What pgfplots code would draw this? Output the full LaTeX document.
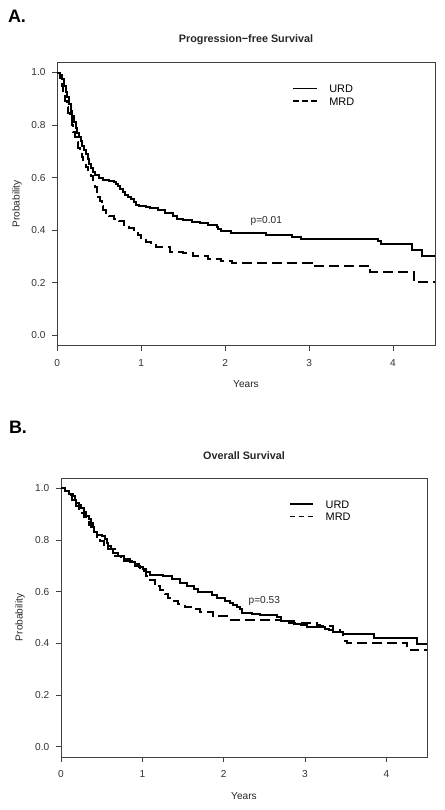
\documentclass[border=0pt]{standalone}
\usepackage{fontspec}
\setmainfont{Liberation Sans}
\usepackage{pgfplots}
\pgfplotsset{compat=1.18}
\begin{document}
\begin{tikzpicture}
\pgfplotsset{
  kmaxis/.style={
    scale only axis,
    xmin=0, xmax=4.5, ymin=-0.04, ymax=1.04,
    xtick={0,1,2,3,4},
    ytick={0,0.2,0.4,0.6,0.8,1.0},
    yticklabel style={/pgf/number format/fixed, /pgf/number format/fixed zerofill, /pgf/number format/precision=1, /tikz/xshift=-1.5pt},
    xticklabel style={/tikz/yshift=-3pt},
    /pgf/number format/assume math mode=true,
    tick align=outside,
    xtick pos=bottom, ytick pos=left,
    major tick length=3.8pt,
    tick style={black!75, line width=0.6pt},
    axis line style={black!75, line width=0.7pt},
    ticklabel style={font=\fontsize{7.6}{9}\selectfont, text=black!80},
    legend style={draw=none, fill=none, font=\fontsize{8.2}{10}\selectfont, row sep=3.5pt,
      inner sep=0pt, outer sep=0pt,
      nodes={inner sep=0pt, text height=6pt, text depth=0pt},
      /tikz/every odd column/.append style={column sep=9pt}},
    legend cell align=left,
    legend image code/.code={\draw[#1] (0pt,0pt) -- (17.5pt,0pt);},
  },
  urd/.style={black, line width=1.5pt, const plot, forget plot},
  mrd/.style={black, line width=1.5pt, const plot, forget plot, dash pattern=on 7.5pt off 3.75pt},
  urdleg/.style={black, line width=1pt},
  mrdleg/.style={black, line width=1pt, dash pattern=on 4.2pt off 2.5pt},
}
\path[use as bounding box] (0,0) rectangle (333.75pt,-607.5pt);
% ---------------- Panel A ----------------
\begin{axis}[kmaxis, at={(42.98pt,-259.28pt)}, anchor=south west,
  width=283.28pt, height=212.78pt,
  legend style={at={(rel axis cs:0.623,0.921)}, anchor=north west}]
\addlegendimage{urdleg}
\addlegendentry{URD}
\addlegendimage{mrdleg}
\addlegendentry{MRD}
\addplot[urd] coordinates {
(0,1.0) (0.03,0.99) (0.06,0.975) (0.08,0.95) (0.10,0.925) (0.12,0.905) (0.14,0.88)
(0.16,0.855) (0.18,0.835) (0.20,0.81) (0.22,0.79) (0.24,0.77) (0.26,0.755) (0.28,0.74)
(0.30,0.72) (0.32,0.705) (0.34,0.69) (0.36,0.67) (0.38,0.65) (0.40,0.635) (0.42,0.62)
(0.45,0.61) (0.50,0.60) (0.55,0.592) (0.62,0.588) (0.68,0.583) (0.70,0.575) (0.72,0.567)
(0.75,0.556) (0.78,0.545) (0.81,0.535) (0.84,0.527) (0.88,0.518) (0.91,0.508) (0.94,0.497)
(0.97,0.49) (1.06,0.487) (1.10,0.483) (1.20,0.475) (1.28,0.465) (1.38,0.455) (1.43,0.443)
(1.50,0.437) (1.60,0.431) (1.70,0.426) (1.80,0.421) (1.90,0.413) (1.92,0.404) (1.95,0.398)
(2.07,0.389) (2.49,0.380) (2.80,0.373) (2.90,0.366) (3.82,0.357) (3.86,0.347) (4.22,0.326)
(4.35,0.303) (4.5,0.303)};
\addplot[mrd] coordinates {
(0,1.0) (0.03,0.98) (0.05,0.95) (0.07,0.92) (0.09,0.89) (0.11,0.87) (0.13,0.845)
(0.15,0.825) (0.17,0.80) (0.19,0.775) (0.21,0.755) (0.23,0.735) (0.25,0.712) (0.27,0.695)
(0.29,0.678) (0.31,0.661) (0.34,0.642) (0.37,0.623) (0.40,0.605) (0.43,0.585) (0.45,0.565)
(0.47,0.547) (0.49,0.528) (0.51,0.509) (0.53,0.49) (0.55,0.477) (0.58,0.465) (0.61,0.452)
(0.67,0.443) (0.73,0.433) (0.79,0.42) (0.85,0.408) (0.91,0.395) (0.96,0.382) (1.00,0.369)
(1.06,0.356) (1.12,0.345) (1.18,0.335) (1.34,0.318) (1.50,0.312) (1.62,0.302) (1.80,0.29)
(1.95,0.283) (2.08,0.275) (3.03,0.265) (3.73,0.242) (4.25,0.204) (4.5,0.204)};
\node[font=\fontsize{7.6}{9}\selectfont, text=black!85] at (axis cs:2.49,0.433) {p=0.01};
\end{axis}
% ---------------- Panel B ----------------
\begin{axis}[kmaxis, at={(45.75pt,-567.75pt)}, anchor=south west,
  width=274.5pt, height=209.25pt,
  legend style={at={(rel axis cs:0.623,0.921)}, anchor=north west}]
\addlegendimage{urdleg}
\addlegendentry{URD}
\addlegendimage{mrdleg}
\addlegendentry{MRD}
\addplot[urd] coordinates {
(0,1.0) (0.05,0.99) (0.10,0.98) (0.15,0.97) (0.17,0.955) (0.19,0.945) (0.22,0.935)
(0.25,0.925) (0.28,0.91) (0.31,0.893) (0.34,0.88) (0.37,0.867) (0.39,0.85) (0.41,0.83)
(0.44,0.82) (0.50,0.815) (0.54,0.803) (0.56,0.79) (0.58,0.777) (0.61,0.765) (0.64,0.751)
(0.70,0.738) (0.78,0.726) (0.85,0.716) (0.91,0.706) (0.96,0.697) (1.01,0.687) (1.05,0.677)
(1.09,0.665) (1.25,0.66) (1.36,0.648) (1.46,0.635) (1.55,0.622) (1.63,0.61) (1.68,0.597)
(1.86,0.588) (1.92,0.575) (2.02,0.564) (2.08,0.556) (2.12,0.549) (2.17,0.54) (2.20,0.532)
(2.22,0.519) (2.35,0.515) (2.45,0.51) (2.65,0.503) (2.70,0.487) (2.80,0.48) (2.86,0.476)
(2.95,0.47) (3.02,0.464) (3.25,0.455) (3.30,0.45) (3.35,0.444) (3.47,0.437) (3.85,0.42)
(4.38,0.397) (4.5,0.397)};
\addplot[mrd] coordinates {
(0,1.0) (0.05,0.99) (0.10,0.975) (0.13,0.955) (0.16,0.94) (0.19,0.93) (0.22,0.92)
(0.25,0.905) (0.28,0.89) (0.31,0.875) (0.34,0.86) (0.37,0.85) (0.40,0.83) (0.44,0.81)
(0.48,0.796) (0.53,0.78) (0.58,0.764) (0.66,0.74) (0.74,0.718) (0.87,0.70) (0.97,0.68)
(1.05,0.66) (1.10,0.645) (1.15,0.622) (1.22,0.605) (1.28,0.59) (1.32,0.575) (1.36,0.564)
(1.44,0.552) (1.52,0.539) (1.63,0.532) (1.71,0.52) (1.87,0.506) (2.06,0.491) (2.70,0.487)
(2.86,0.477) (3.15,0.47) (3.19,0.468) (3.35,0.45) (3.43,0.442) (3.47,0.41) (3.52,0.403)
(4.26,0.39) (4.30,0.374) (4.5,0.374)};
\node[font=\fontsize{7.6}{9}\selectfont, text=black!85] at (axis cs:2.50,0.564) {p=0.53};
\end{axis}
% ---------------- Text ----------------
\node[font=\fontsize{13.5}{15}\bfseries\selectfont] at (12.75pt,-12.4pt) {A.};
\node[font=\fontsize{13.5}{15}\bfseries\selectfont] at (13.5pt,-320.25pt) {B.};
\node[font=\fontsize{8.1}{10}\bfseries\selectfont, text=black!85] at (184.5pt,-30pt) {Progression\textminus free Survival};
\node[font=\fontsize{8.1}{10}\bfseries\selectfont, text=black!85] at (183pt,-342pt) {Overall Survival};
\node[font=\fontsize{7.6}{9}\selectfont, text=black!85] at (184.5pt,-288pt) {Years};
\node[font=\fontsize{7.6}{9}\selectfont, text=black!85] at (183pt,-597pt) {Years};
\node[font=\fontsize{7.6}{9}\selectfont, text=black!85, rotate=90] at (12.75pt,-152.9pt) {Probability};
\node[font=\fontsize{7.6}{9}\selectfont, text=black!85, rotate=90] at (15pt,-463.1pt) {Probability};
\end{tikzpicture}
\end{document}
